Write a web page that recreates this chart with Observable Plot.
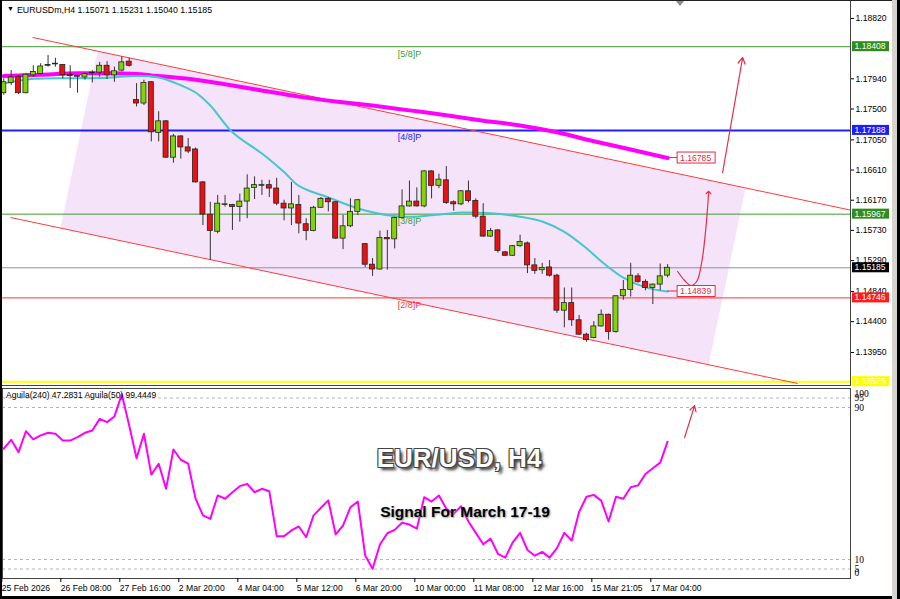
<!DOCTYPE html>
<html><head><meta charset="utf-8">
<script src="https://cdn.jsdelivr.net/npm/d3@7"></script>
<script src="https://cdn.jsdelivr.net/npm/@observablehq/plot@0.6"></script>
<style>
body{margin:0;background:#fff;}
#wrap{position:relative;width:900px;height:599px;overflow:hidden;background:#fff;font-family:"Liberation Sans",Arial,sans-serif;}
#wrap svg{position:absolute;left:0;}
.ov{position:absolute;white-space:nowrap;}
.bar{position:absolute;}
</style></head><body><div id="wrap"></div>
<script>
// ---------- DATA ----------
const symbolHeader = "EURUSDm,H4  1.15071 1.15231 1.15040 1.15185";
const indicatorHeader = "Aguila(240) 47.2831  Aguila(50) 99.4449";
const titleText = "EUR/USD, H4";
const subtitleText = "Signal For March 17-19";

const tickIdx = [0, 8, 16, 24, 32, 40, 48, 56, 64, 72, 80, 88];
const tickLabels = ["25 Feb 2026", "26 Feb 08:00", "27 Feb 16:00", "2 Mar 20:00", "4 Mar 04:00", "5 Mar 12:00",
  "6 Mar 20:00", "10 Mar 00:00", "11 Mar 08:00", "12 Mar 16:00", "15 Mar 21:05", "17 Mar 04:00"];

const opens = [1.1773,1.1788,1.1797,1.1773,1.1799,1.1801,1.1813,1.1815,1.1814,1.1800,1.1798,1.1796,1.1802,1.1803,1.1813,1.1799,1.1806,1.1819,
  1.1763,1.1758,1.1789,1.1715,1.1732,1.1679,1.1710,1.1694,1.1691,1.1643,1.1596,1.1571,1.1610,1.1610,1.1607,1.1615,1.1635,1.1638,1.1639,1.1634,1.1612,1.1605,
  1.1610,1.1582,1.1572,1.1606,1.1619,1.1614,1.1561,1.1579,1.1600,1.1553,1.1523,1.1516,1.1562,1.1560,1.1591,1.1608,1.1615,1.1608,1.1659,1.1638,
  1.1646,1.1614,1.1611,1.1630,1.1616,1.1593,1.1564,1.1573,1.1541,1.1536,1.1550,1.1554,1.1522,1.1515,1.1519,1.1507,1.1456,1.1467,1.1442,1.1421,
  1.1416,1.1433,1.1450,1.1425,1.1477,1.1486,1.1506,1.1498,1.1489,1.1494,1.15071];
const highs = [1.1794,1.1806,1.1799,1.1802,1.1813,1.1816,1.1828,1.1824,1.1815,1.1813,1.1799,1.1802,1.1806,1.1818,1.1819,1.1811,1.1826,1.1824,
  1.1787,1.1792,1.1790,1.1746,1.1733,1.1713,1.1711,1.1707,1.1693,1.1644,1.1614,1.1624,1.1624,1.1611,1.1626,1.1654,1.1651,1.1646,1.1646,1.1649,1.1617,1.1643,
  1.1624,1.1590,1.1608,1.1621,1.1621,1.1615,1.1595,1.1619,1.1618,1.1554,1.1532,1.1572,1.1573,1.1592,1.1632,1.1645,1.1635,1.1660,1.1660,1.1655,
  1.1666,1.1616,1.1631,1.1645,1.1619,1.1612,1.1576,1.1574,1.1542,1.1551,1.1566,1.1556,1.1532,1.1525,1.1529,1.1509,1.1489,1.1489,1.1449,1.1423,
  1.1440,1.1457,1.1451,1.1478,1.1500,1.1525,1.1510,1.1501,1.1495,1.1524,1.15231];
const lows = [1.1770,1.1784,1.1771,1.1772,1.1796,1.1800,1.1811,1.1811,1.1794,1.1780,1.1773,1.1792,1.1788,1.1796,1.1793,1.1789,1.1804,1.1811,
  1.1753,1.1755,1.1702,1.1702,1.1678,1.1671,1.1677,1.1685,1.1642,1.1580,1.1529,1.1568,1.1607,1.1573,1.1585,1.1590,1.1618,1.1624,1.1621,1.1609,1.1587,1.1580,
  1.1568,1.1558,1.1571,1.1605,1.1600,1.1560,1.1545,1.1577,1.1595,1.1519,1.1506,1.1515,1.1515,1.1546,1.1590,1.1607,1.1607,1.1606,1.1619,1.1634,
  1.1611,1.1601,1.1609,1.1613,1.1590,1.1563,1.1563,1.1540,1.1535,1.1535,1.1548,1.1510,1.1509,1.1509,1.1505,1.1452,1.1431,1.1433,1.1420,1.1410,
  1.1415,1.1432,1.1413,1.1423,1.1471,1.1476,1.1496,1.1485,1.1465,1.1485,1.15040];
const closes = [1.1789,1.1796,1.1773,1.1800,1.1804,1.1812,1.1814,1.1816,1.1799,1.1798,1.1797,1.1801,1.1803,1.1813,1.1799,1.1805,1.1818,1.1813,
  1.1758,1.1788,1.1716,1.1732,1.1679,1.1710,1.1694,1.1688,1.1643,1.1596,1.1572,1.1612,1.1611,1.1607,1.1615,1.1634,1.1639,1.1639,1.1634,1.1612,1.1605,1.1611,
  1.1583,1.1572,1.1606,1.1619,1.1614,1.1561,1.1579,1.1600,1.1617,1.1523,1.1516,1.1562,1.1560,1.1591,1.1608,1.1615,1.1608,1.1659,1.1638,1.1647,
  1.1613,1.1611,1.1630,1.1616,1.1593,1.1564,1.1572,1.1543,1.1536,1.1550,1.1556,1.1522,1.1514,1.1518,1.1507,1.1456,1.1467,1.1442,1.1421,1.1413,
  1.1433,1.1450,1.1425,1.1477,1.1486,1.1507,1.1498,1.1489,1.1494,1.1506,1.15185];

// moving averages (bar index, price)
const slowMaIdx = [0,5,10,15,18,20,25,30,35,40,45,50,55,60,65,70,75,80,85,90];
const slowMaVal = [1.1798,1.1800,1.1802,1.1802,1.1801,1.1799,1.1794,1.1786,1.1777,1.1768,1.1761,1.1755,1.1748,1.1741,1.1733,1.1726,1.1716,1.1703,1.1691,1.16785];
const fastMaIdx = [0,4,13,18,21,23,26,28,31,35,38,40,44,49,54,58,62,66,70,73,76,79,81,84,87,90];
const fastMaVal = [1.1787,1.1794,1.1795,1.1798,1.1796,1.1789,1.1774,1.1755,1.1716,1.1685,1.1658,1.1638,1.1621,1.1602,1.1593,1.1595,1.1599,1.1598,1.1593,1.1586,1.1571,1.1547,1.1528,1.1504,1.1490,1.14839];

// Murrey levels
const levelValues = [1.18408, 1.17188, 1.15967, 1.14746, 1.13525];
const levelColors = ["#3e9a2c", "#1e1eff", "#3e9a2c", "#ff3535", "#ffff00"];
const levelWidths = [1, 2, 1, 1, 2];
const levelTags = ["[5/8]P", "[4/8]P", "[3/8]P", "[2/8]P"];
const tagColors = ["#3e9a2c", "#1e1eff", "#3e9a2c", "#ff3535"];
const tagIdx = 53.4;
const lastPrice = 1.15185;

// channel lines (bar index, price)
const channelX1 = [3.89, 0.91];
const channelY1 = [1.18543, 1.15918];
const channelX2 = [114.8, 107.64];
const channelY2 = [1.16026, 1.13498];
// shaded channel polygon
const shadeIdx = [12.71, 100.58, 95.57, 7.69];
const shadePrice = [1.18343, 1.16350, 1.13771, 1.15764];

// right axis
const priceTicks = [1.18820, 1.17940, 1.17500, 1.17050, 1.16610, 1.16170, 1.15730, 1.15290, 1.14840, 1.14400, 1.13950];
const boxValues = [1.18408, 1.17188, 1.15967, 1.15185, 1.14746, 1.13525];
const boxFills = ["#2f8c1e", "#1c1cff", "#2f8c1e", "#000000", "#ff1c1c", "#ffff00"];
const inlineValues = [1.16785, 1.14839];
const inlineFrom = [90, 90];
const inlineIdx = 91.36;

// arrows
const arrowUpX = [97.46, 100.18];
const arrowUpY = [1.16574, 1.18251];
const curveX = [91.36, 92.31, 93.12, 93.94, 94.62, 95.16, 95.57];
const curveY = [1.15131, 1.15000, 1.14927, 1.14985, 1.15262, 1.15729, 1.16283];
const indArrowX = [92.31, 93.66];
const indArrowY = [74.2, 91.0];

// indicator Aguila(50)
const aguila = [68.3,73.0,66.5,77.5,73.2,75.3,76.7,76.2,72.6,72.6,74.4,76.7,77.9,84.0,82.3,85.3,97.0,80.5,63.3,76.2,
  54.7,60.4,47.2,67.9,62.5,60.4,42.0,33.2,31.4,43.7,42.0,45.4,48.6,49.8,45.4,47.2,45.9,22.3,22.3,25.3,
  27.4,21.7,33.2,37.2,41.1,23.2,27.9,37.5,40.5,12.1,5.1,17.9,23.8,25.6,29.3,28.4,26.2,42.8,40.5,43.7,
  36.7,34,38,30,24,18,21,13,11,19,24,15,12,14,11,16,24,20,35,43,
  44,41,30,43,42,48,49,55,58,61,72];
const guideLevels = [95, 90, 10, 5];
const indTicksMid = [95, 90, 10, 5];

// ---------- CHART ----------
const xDomain = [-0.176, 114.8];
const font = "Liberation Sans, Arial, sans-serif";
const up = "#82d600", down = "#ee1010";
const candles = opens.map((o, i) => ({i, o, h: highs[i], l: lows[i], c: closes[i]}));

function rargs(args) {
  if (args.length >= 4) return {sc: args[1], dims: args[3]};
  return {sc: args[0], dims: args[1]};
}
const priceBoxes = (...args) => {
  const {sc, dims} = rargs(args);
  const g = d3.create("svg:g").attr("text-anchor", "start");
  const x0 = dims.width - dims.marginRight + 2;
  boxValues.forEach((v, k) => {
    const y = sc.y(v);
    g.append("rect").attr("x", x0).attr("y", y - 5).attr("width", 37).attr("height", 10).attr("fill", boxFills[k]);
    g.append("text").attr("x", x0 + 2.5).attr("y", y).attr("dy", "0.35em").attr("fill", "#fff").attr("text-anchor", "start")
      .attr("font-size", 8.6).attr("font-family", font).text(v.toFixed(5));
  });
  return g.node();
};
const inlineBoxes = (...args) => {
  const {sc} = rargs(args);
  const g = d3.create("svg:g").attr("text-anchor", "start");
  inlineValues.forEach((v, k) => {
    const y = sc.y(v), x = sc.x(inlineIdx);
    g.append("line").attr("x1", sc.x(inlineFrom[k])).attr("x2", x).attr("y1", y).attr("y2", y).attr("stroke", "#e8283c");
    g.append("rect").attr("x", x).attr("y", y - 5.5).attr("width", 38).attr("height", 11)
      .attr("fill", "#fff").attr("stroke", "#e8283c").attr("stroke-width", 1);
    g.append("text").attr("x", x + 3).attr("y", y).attr("dy", "0.35em").attr("fill", "#e8283c").attr("text-anchor", "start")
      .attr("font-size", 8.6).attr("font-family", font).text(v.toFixed(5));
  });
  return g.node();
};

const p1 = Plot.plot({
  width: 900, height: 387, marginLeft: 2, marginRight: 50, marginTop: 8, marginBottom: 2,
  x: {domain: xDomain, axis: null},
  y: {domain: [1.13469, 1.18965], axis: null},
  color: {type: "identity"},
  style: {background: "transparent", fontFamily: font, fontSize: "8.6px", color: "#000", overflow: "visible"},
  marks: [
    Plot.line(d3.range(shadeIdx.length), {x: k => shadeIdx[k], y: k => shadePrice[k], fill: "#f4e3f9", stroke: "none", curve: "linear-closed"}),
    Plot.ruleY([lastPrice], {stroke: "#8e92a0", strokeWidth: 1}),
    Plot.ruleY(levelValues, {y: d => d, stroke: (d, k) => levelColors[k], strokeWidth: (d, k) => levelWidths[k]}),
    Plot.link(d3.range(2), {x1: k => channelX1[k], y1: k => channelY1[k], x2: k => channelX2[k], y2: k => channelY2[k], stroke: "#ff3c3c", strokeWidth: 1}),
    Plot.text(d3.range(levelTags.length), {x: k => tagIdx, y: k => levelValues[k], text: k => levelTags[k], fill: k => tagColors[k], dy: 7, textAnchor: "start", fontSize: 9}),
    Plot.line(d3.range(slowMaIdx.length), {x: k => slowMaIdx[k], y: k => slowMaVal[k], stroke: "#ff00ff", strokeWidth: 4, curve: "catmull-rom"}),
    Plot.line(d3.range(fastMaIdx.length), {x: k => fastMaIdx[k], y: k => fastMaVal[k], stroke: "#45c6cf", strokeWidth: 2, curve: "catmull-rom"}),
    Plot.ruleX(candles, {x: "i", y1: "l", y2: "h", stroke: "#333", strokeWidth: 1}),
    Plot.rect(candles, {x1: d => d.i - 0.34, x2: d => d.i + 0.34, y1: "o", y2: "c", fill: d => d.c >= d.o ? up : down, stroke: "#222", strokeWidth: 0.8}),
    Plot.axisY(priceTicks, {anchor: "right", tickFormat: d => d.toFixed(5), tickSize: 3, tickPadding: 2, fontSize: 8.6, stroke: "#000", fill: "#000"}),
    priceBoxes,
    inlineBoxes,
    Plot.arrow(d3.range(1), {x1: () => arrowUpX[0], y1: () => arrowUpY[0], x2: () => arrowUpX[1], y2: () => arrowUpY[1], stroke: "#e23048", strokeWidth: 1.2, headLength: 9}),
    Plot.line(d3.range(curveX.length), {x: k => curveX[k], y: k => curveY[k], stroke: "#e23048", strokeWidth: 1.2, curve: "catmull-rom", markerEnd: "arrow"})
  ]
});

const p2 = Plot.plot({
  width: 900, height: 213, marginLeft: 2, marginRight: 50, marginTop: 2, marginBottom: 21,
  x: {domain: xDomain},
  y: {domain: [0, 100]},
  style: {background: "transparent", fontFamily: font, fontSize: "8.6px", color: "#000", overflow: "visible"},
  marks: [
    Plot.ruleY(guideLevels, {stroke: "#b4b4b4", strokeDasharray: "3,3"}),
    Plot.frame({stroke: "#444"}),
    Plot.line(aguila, {x: (d, i) => i, y: d => d, stroke: "#ff00ff", strokeWidth: 2}),
    Plot.arrow(d3.range(1), {x1: () => indArrowX[0], y1: () => indArrowY[0], x2: () => indArrowX[1], y2: () => indArrowY[1], stroke: "#e23048", strokeWidth: 1.2, headLength: 8}),
    Plot.axisX(tickIdx, {anchor: "bottom", tickFormat: d => tickLabels[tickIdx.indexOf(d)], tickSize: 4, tickPadding: 2, textAnchor: "start", dx: -2, fontSize: 8.6, stroke: "#000", fill: "#000"}),
    Plot.axisY(indTicksMid, {anchor: "right", tickSize: 0, tickPadding: 4, fontSize: 9.5, fontFamily: "Liberation Serif, serif", fill: "#000"}),
    Plot.axisY([100], {anchor: "right", tickSize: 0, tickPadding: 4, dy: 5, fontSize: 9.5, fontFamily: "Liberation Serif, serif", fill: "#000"}),
    Plot.axisY([0], {anchor: "right", tickSize: 0, tickPadding: 4, dy: -6, fontSize: 9.5, fontFamily: "Liberation Serif, serif", fill: "#000"})
  ]
});

const wrap = document.getElementById("wrap");
p1.style.top = "0px";
p2.style.top = "386px";
wrap.appendChild(p1);
wrap.appendChild(p2);

function addDiv(css, html, cls) {
  const d = document.createElement("div");
  d.className = cls || "bar";
  d.style.cssText = css;
  if (html) d.textContent = html;
  wrap.appendChild(d);
  return d;
}
// frame chrome
addDiv("left:850px;top:0;width:1px;height:386px;background:#444;");
addDiv("left:2px;top:385px;width:849px;height:1px;background:#444;");
addDiv("left:0;top:0;width:900px;height:1px;background:#222;");
addDiv("left:0;top:0;width:2px;height:599px;background:#000;");
addDiv("left:0;top:596px;width:900px;height:3px;background:#000;");
addDiv("left:892px;top:0;width:5px;height:599px;background:#d6d3cc;");
addDiv("left:897px;top:0;width:3px;height:599px;background:#000;");
// small shift marker triangle (shape, not text)
addDiv("left:676px;top:1px;width:0;height:0;border-left:4px solid transparent;border-right:4px solid transparent;border-top:5px solid #8a8a8a;");
// texts
addDiv("left:7px;top:5px;font-size:7px;color:#000;", "▼", "ov");
addDiv("left:17px;top:5px;font-size:8.8px;color:#000;", symbolHeader, "ov");
addDiv("left:6px;top:390px;font-size:8.5px;color:#000;", indicatorHeader, "ov");
addDiv("left:459px;top:458px;transform:translate(-50%,-50%);font-size:26px;font-weight:bold;color:#fff;" +
  "text-shadow:1px 1px 0 #444,-1px -1px 0 #444,1px -1px 0 #444,-1px 1px 0 #444,3px 3px 3px #333;", titleText, "ov");
addDiv("left:465px;top:512px;transform:translate(-50%,-50%);font-size:15.5px;font-weight:bold;color:#000;" +
  "text-shadow:1px 1px 2px #999;", subtitleText, "ov");
</script>
</body></html>
